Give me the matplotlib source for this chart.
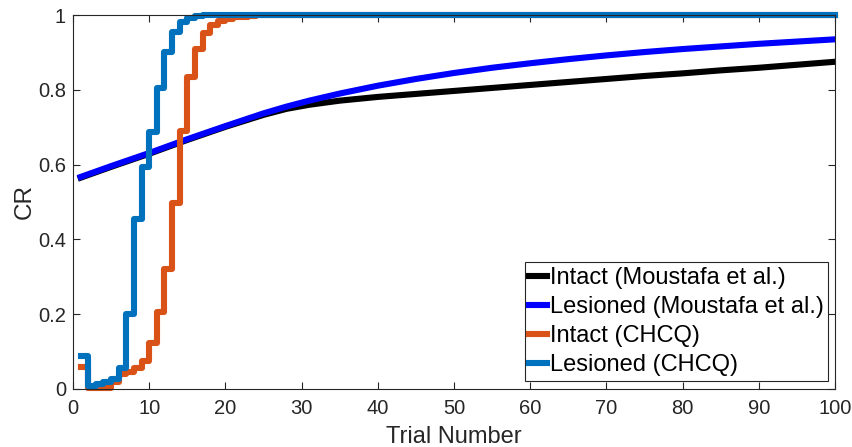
import matplotlib
matplotlib.use("Agg")
import matplotlib.pyplot as plt  # noqa: E402

C_INT_M = "#000000"   # intact, Moustafa et al.
C_LES_M = "#0000FF"   # lesioned, Moustafa et al.
C_INT_C = "#D95319"   # intact, CHCQ
C_LES_C = "#0072BD"   # lesioned, CHCQ
C_AX = "#262626"

# Moustafa et al. curves, read at these trials
moustafa_trials = [1, 5, 10, 15, 20, 25, 28, 31, 35, 40, 45, 50, 55, 60, 65, 70,
                   75, 80, 85, 90, 95, 100]
lesioned_moustafa = [0.567, 0.596, 0.631, 0.668, 0.703, 0.737, 0.755, 0.771, 0.790,
                     0.811, 0.829, 0.845, 0.859, 0.871, 0.882, 0.892, 0.901, 0.909,
                     0.916, 0.923, 0.929, 0.935]
intact_moustafa = [0.565, 0.594, 0.629, 0.666, 0.701, 0.733, 0.749, 0.760, 0.771,
                   0.781, 0.789, 0.797, 0.805, 0.813, 0.821, 0.829, 0.837, 0.844,
                   0.852, 0.859, 0.867, 0.875]

# CHCQ stairs, one value per trial 1..100 (flat at 1 after the listed ones)
chcq_trials = list(range(1, 101))
intact_chcq = [0.058, 0.002, 0.002, 0.002, 0.020, 0.040, 0.046, 0.055, 0.075, 0.123,
               0.205, 0.322, 0.497, 0.690, 0.833, 0.910, 0.951, 0.973, 0.984, 0.990,
               0.994, 0.996, 0.998, 0.999]
lesioned_chcq = [0.089, 0.008, 0.012, 0.020, 0.027, 0.055, 0.200, 0.455, 0.594, 0.686,
                 0.804, 0.900, 0.955, 0.980, 0.993, 0.997, 0.999]
intact_chcq += [1.0] * (100 - len(intact_chcq))
lesioned_chcq += [1.0] * (100 - len(lesioned_chcq))

plt.rcParams["font.family"] = ["Liberation Sans", "DejaVu Sans"]

fig = plt.figure(figsize=(8.53, 4.47), dpi=100)
ax = fig.add_axes([0.0856, 0.1298, 0.8933, 0.8366])

lw = 4.4
ax.plot(moustafa_trials, intact_moustafa, color=C_INT_M, lw=lw, label="Intact (Moustafa et al.)")
ax.plot(moustafa_trials, lesioned_moustafa, color=C_LES_M, lw=lw, label="Lesioned (Moustafa et al.)")
ax.step(chcq_trials, intact_chcq, where="post", color=C_INT_C, lw=lw, clip_on=False,
        label="Intact (CHCQ)")
ax.step(chcq_trials, lesioned_chcq, where="post", color=C_LES_C, lw=lw, clip_on=False,
        label="Lesioned (CHCQ)")

ax.set_xlim(0, 100)
ax.set_ylim(0, 1)
ax.set_xticks(range(0, 101, 10))
ax.set_yticks([0, 0.2, 0.4, 0.6, 0.8, 1])
ax.set_yticklabels(["0", "0.2", "0.4", "0.6", "0.8", "1"])
ax.tick_params(direction="in", top=True, right=True, length=5, width=0.8,
               colors=C_AX, labelsize=14.5)
ax.tick_params(axis="x", pad=7)
ax.tick_params(axis="y", pad=5)
for s in ax.spines.values():
    s.set_color(C_AX)
    s.set_linewidth(0.8)
ax.set_xlabel("Trial Number", fontsize=17, color=C_AX, labelpad=6)
ax.set_ylabel("CR", fontsize=17.5, color=C_AX, labelpad=2)

leg = ax.legend(loc="lower right", bbox_to_anchor=(0.991, 0.021), borderaxespad=0,
                fontsize=17, handlelength=0.75, handletextpad=0.1, labelspacing=0.3,
                borderpad=0.2, fancybox=False, framealpha=1)
leg.get_frame().set_edgecolor(C_AX)
leg.get_frame().set_linewidth(0.8)

fig.savefig("out.png", dpi=100)
